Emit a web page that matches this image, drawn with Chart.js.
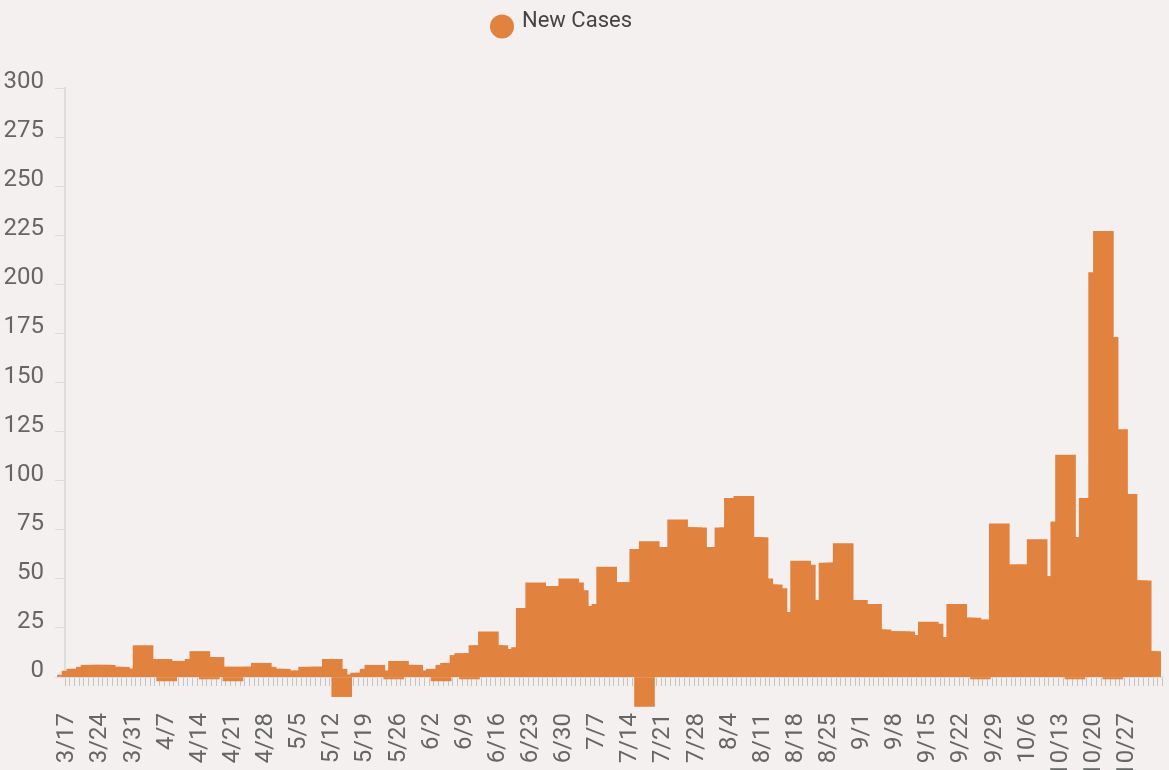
<!DOCTYPE html>
<html>
<head>
<meta charset="utf-8">
<script src="https://cdn.jsdelivr.net/npm/chart.js@4.4.1/dist/chart.umd.min.js"></script>
<style>
  html, body { margin: 0; padding: 0; background: #f4f0ef; }
  #wrap { width: 1169px; height: 770px; position: relative; }
</style>
</head>
<body>
<div id="wrap"><canvas id="c"></canvas></div>
<script>
const seriesName = 'New Cases';

const days = [
  '3/17','3/18','3/19','3/20','3/21','3/22','3/23','3/24','3/25','3/26','3/27','3/28','3/29','3/30','3/31',
  '4/1','4/2','4/3','4/4','4/5','4/6','4/7','4/8','4/9','4/10','4/11','4/12','4/13','4/14','4/15','4/16','4/17','4/18','4/19','4/20','4/21','4/22','4/23','4/24','4/25','4/26','4/27','4/28','4/29','4/30',
  '5/1','5/2','5/3','5/4','5/5','5/6','5/7','5/8','5/9','5/10','5/11','5/12','5/13','5/14','5/15','5/16','5/17','5/18','5/19','5/20','5/21','5/22','5/23','5/24','5/25','5/26','5/27','5/28','5/29','5/30','5/31',
  '6/1','6/2','6/3','6/4','6/5','6/6','6/7','6/8','6/9','6/10','6/11','6/12','6/13','6/14','6/15','6/16','6/17','6/18','6/19','6/20','6/21','6/22','6/23','6/24','6/25','6/26','6/27','6/28','6/29','6/30',
  '7/1','7/2','7/3','7/4','7/5','7/6','7/7','7/8','7/9','7/10','7/11','7/12','7/13','7/14','7/15','7/16','7/17','7/18','7/19','7/20','7/21','7/22','7/23','7/24','7/25','7/26','7/27','7/28','7/29','7/30','7/31',
  '8/1','8/2','8/3','8/4','8/5','8/6','8/7','8/8','8/9','8/10','8/11','8/12','8/13','8/14','8/15','8/16','8/17','8/18','8/19','8/20','8/21','8/22','8/23','8/24','8/25','8/26','8/27','8/28','8/29','8/30','8/31',
  '9/1','9/2','9/3','9/4','9/5','9/6','9/7','9/8','9/9','9/10','9/11','9/12','9/13','9/14','9/15','9/16','9/17','9/18','9/19','9/20','9/21','9/22','9/23','9/24','9/25','9/26','9/27','9/28','9/29','9/30',
  '10/1','10/2','10/3','10/4','10/5','10/6','10/7','10/8','10/9','10/10','10/11','10/12','10/13','10/14','10/15','10/16','10/17','10/18','10/19','10/20','10/21','10/22','10/23','10/24','10/25','10/26','10/27','10/28','10/29','10/30','10/31',
  '11/1','11/2','11/3'
];

const newCases = [
  1,3,4,4,5,6,6,6,6,5,
  5,5,4,4,4,4,16,9,9,9,
  9,-2,8,8,8,8,8,9,13,10,
  -1,10,5,5,5,-2,5,5,5,5,
  5,7,5,4,4,4,3,3,3,3,
  3,5,5,5,5,5,9,4,-10,1,
  1,1,2,2,4,6,3,3,3,-1,
  8,6,6,6,3,3,3,3,4,-2,
  6,7,7,11,12,-1,12,16,16,23,
  16,16,14,14,14,14,15,35,35,48,
  46,46,46,46,46,46,50,48,44,36,
  36,36,36,37,56,48,48,48,48,48,
  48,65,-15,69,66,66,66,66,66,80,
  76,76,76,76,66,66,66,66,66,76,
  76,91,91,92,71,71,71,50,47,47,
  45,33,33,33,33,59,57,39,39,39,
  39,58,58,58,68,39,39,39,37,37,
  37,24,24,23,23,23,23,23,21,21,
  21,21,28,27,20,20,20,20,37,30,
  30,30,29,-1,29,29,29,78,57,57,
  57,57,57,57,57,70,51,51,51,51,
  79,113,71,-1,71,71,91,91,206,227,
  173,-1,126,93,93,49,49,49,13,13,
  null,null
];

const tickLabels = ['3/17','3/24','3/31','4/7','4/14','4/21','4/28','5/5','5/12','5/19','5/26',
  '6/2','6/9','6/16','6/23','6/30','7/7','7/14','7/21','7/28','8/4','8/11','8/18','8/25',
  '9/1','9/8','9/15','9/22','9/29','10/6','10/13','10/20','10/27'];

const yMin = 0, yMax = 300, yStep = 25;

const barColor = '#e1833f';
const axisFont = { family: 'Roboto', size: 24 };

const legendPlugin = {
  id: 'topLegend',
  afterDraw(chart) {
    const ctx = chart.ctx;
    ctx.save();
    ctx.fillStyle = barColor;
    ctx.beginPath();
    ctx.arc(502, 26.5, 12, 0, Math.PI * 2);
    ctx.fill();
    ctx.fillStyle = '#444';
    ctx.font = '22px Roboto';
    ctx.textBaseline = 'alphabetic';
    ctx.textAlign = 'left';
    ctx.fillText(chart.data.datasets[0].label, 522, 27);
    ctx.restore();
  }
};

new Chart(document.getElementById('c'), {
  type: 'bar',
  data: {
    labels: days,
    datasets: [{
      label: seriesName,
      data: newCases,
      backgroundColor: barColor,
      borderWidth: 0,
      barThickness: 20,
      clip: false
    }]
  },
  plugins: [legendPlugin],
  options: {
    responsive: true,
    maintainAspectRatio: false,
    animation: false,
    layout: { padding: { top: 88, right: 6.5, bottom: 0, left: 0 } },
    plugins: { legend: { display: false }, tooltip: { enabled: false } },
    scales: {
      x: {
        offset: true,
        grid: { display: true, drawOnChartArea: false, drawTicks: true, tickLength: 9, color: '#c4c4c4', offset: true },
        border: { display: true, color: '#dddddd', width: 2 },
        ticks: {
          autoSkip: false,
          minRotation: 90,
          maxRotation: 90,
          padding: 27,
          color: '#666',
          font: axisFont,
          callback: function (v, i) { const d = days[i]; return tickLabels.includes(d) ? d : ''; }
        },
        afterFit(s) { s.height = 93; s.paddingLeft = 0; s.paddingRight = 0; }
      },
      y: {
        min: yMin,
        max: yMax,
        grid: { display: true, drawOnChartArea: false, drawTicks: true, tickLength: 10, color: '#dddddd' },
        border: { display: true, color: '#dddddd', width: 2 },
        ticks: { stepSize: yStep, padding: 11, labelOffset: -6, color: '#666', font: axisFont },
        afterFit(s) { s.width = 65; }
      }
    }
  }
});
</script>
</body>
</html>
